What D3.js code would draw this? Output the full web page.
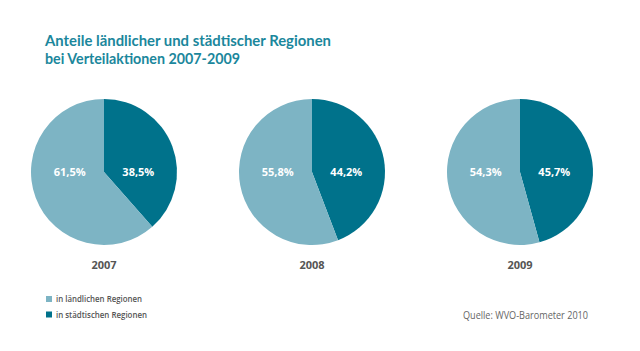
<!DOCTYPE html>
<html>
<head>
<meta charset="utf-8">
<script src="https://cdn.jsdelivr.net/npm/d3@7"></script>
<style>
  body { margin: 0; background: #fff; }
  svg { display: block; font-family: "Open Sans", sans-serif; }
</style>
</head>
<body>
<div id="chart"></div>
<script>
// data
var years = ["2007", "2008", "2009"];
var seriesNames = ["in ländlichen Regionen", "in städtischen Regionen"];
var laendlich = [61.5, 55.8, 54.3];
var staedtisch = [38.5, 44.2, 45.7];
var colors = ["#7db4c4", "#00728b"];

var width = 640, height = 351;
var svg = d3.select("#chart").append("svg")
    .attr("width", width)
    .attr("height", height);

// squeeze a text to the width it has in the picture
function fitWidth(sel, target) {
    var w = sel.node().getComputedTextLength();
    if (w > target) {
        sel.attr("textLength", target).attr("lengthAdjust", "spacingAndGlyphs");
    }
}

// title
var titleLines = ["Anteile ländlicher und städtischer Regionen", "bei Verteilaktionen 2007-2009"];
var titleWidths = [286, 195];
titleLines.forEach(function(t, i) {
    var line = svg.append("text")
        .attr("x", 45)
        .attr("y", 46 + i * 18)
        .attr("fill", "#1b879c")
        .style("font-family", "Lato, sans-serif")
        .style("font-size", "15.5px")
        .style("font-weight", 700)
        .text(t);
    fitWidth(line, titleWidths[i]);
});

var x = d3.scalePoint()
    .domain(years)
    .range([104, 520]);

var radius = 73, cy = 172;

var pie = d3.pie()
    .sort(null)
    .value(function(d) { return d.value; });

var arc = d3.arc()
    .innerRadius(0)
    .outerRadius(radius);

var fmt = function(v) { return d3.format(".1f")(v).replace(".", ",") + "%"; };

years.forEach(function(year, i) {
    // städtisch first so it starts at 12 o'clock going clockwise
    var slices = [
        { key: 1, value: staedtisch[i] },
        { key: 0, value: laendlich[i] }
    ];

    var g = svg.append("g")
        .attr("transform", "translate(" + x(year) + "," + cy + ")");

    g.selectAll("path")
        .data(pie(slices))
        .enter().append("path")
        .attr("d", arc)
        .attr("fill", function(d) { return colors[d.data.key]; });

    g.selectAll("text.val")
        .data(slices)
        .enter().append("text")
        .attr("class", "val")
        .attr("x", function(d) { return d.key === 1 ? radius * 0.47 : -radius * 0.47; })
        .attr("y", 4)
        .attr("text-anchor", "middle")
        .attr("fill", "#fff")
        .style("font-size", "11px")
        .style("font-weight", 700)
        .text(function(d) { return fmt(d.value); });

    svg.append("text")
        .attr("x", x(year))
        .attr("y", 269)
        .attr("text-anchor", "middle")
        .attr("fill", "#555")
        .style("font-size", "11px")
        .style("font-weight", 700)
        .text(year);
});

// legend
var legend = svg.selectAll("g.legend")
    .data(seriesNames)
    .enter().append("g")
    .attr("class", "legend")
    .attr("transform", function(d, i) { return "translate(46," + (299 + i * 15.5) + ")"; });

legend.append("rect")
    .attr("x", 0)
    .attr("y", -3)
    .attr("width", 6)
    .attr("height", 6)
    .attr("fill", function(d, i) { return colors[i]; });

legend.append("text")
    .attr("x", 10)
    .attr("y", 3)
    .attr("fill", "#555")
    .style("font-size", "9px")
    .style("font-weight", 600)
    .text(function(d) { return d; })
    .each(function(d, i) { fitWidth(d3.select(this), i === 0 ? 86 : 91); });

// source
var source = svg.append("text")
    .attr("x", 463)
    .attr("y", 319)
    .attr("fill", "#666")
    .style("font-size", "11px")
    .text("Quelle: WVO-Barometer 2010");
fitWidth(source, 125);
</script>
</body>
</html>
